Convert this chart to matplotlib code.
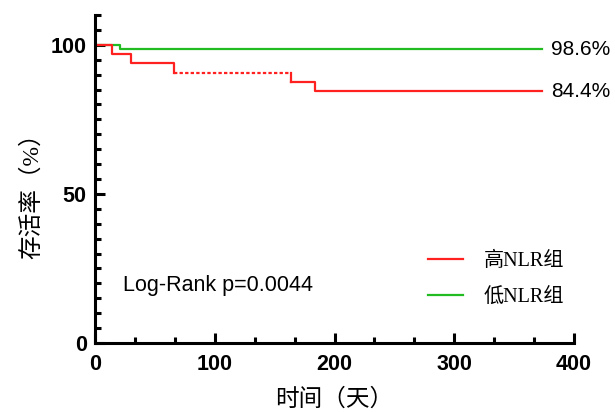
import matplotlib
matplotlib.use("Agg")
import matplotlib.pyplot as plt
from matplotlib.ticker import MultipleLocator

# === data ===
high_t = [0, 14, 30, 66, 164, 184, 373]
high_s = [100, 96.9, 93.75, 90.6, 87.5, 84.4, 84.4]
low_t = [0, 21, 373]
low_s = [100, 98.6, 98.6]
censor_span = [66, 164]  # dotted stretch of the high group
end_labels = ["98.6%", "84.4%"]
group_names = ["高NLR组", "低NLR组"]
colors = ["#ff2020", "#22bb22"]

cjk = ["Liberation Serif", "Noto Sans CJK SC"]

fig = plt.figure(figsize=(6.15, 4.12), dpi=100)
ax = fig.add_axes([0.1545, 0.1675, 0.779, 0.796])

ax.step(low_t, low_s, where="post", color=colors[1], lw=1.6, label=group_names[1])
# high group, with the dotted middle segment drawn separately
ax.step(high_t[:4], high_s[:4], where="post", color=colors[0], lw=1.6)
ax.plot(censor_span, [high_s[3], high_s[3]], color=colors[0], lw=1.6,
        ls=(0, (1.5, 1)))
ax.step(high_t[4:], high_s[4:], where="post", color=colors[0], lw=1.6)
ax.plot([high_t[4], high_t[4]], [high_s[3], high_s[4]], color=colors[0], lw=1.6)
ax.plot([], [], color=colors[0], lw=1.6, label=group_names[0])

ax.set_xlim(0, 400)
ax.set_ylim(0, 110)
ax.set_xticks([0, 100, 200, 300, 400])
ax.set_yticks([0, 50, 100])
ax.xaxis.set_minor_locator(MultipleLocator(100 / 3))
ax.yaxis.set_minor_locator(MultipleLocator(5))

for side in ["top", "right"]:
    ax.spines[side].set_visible(False)
for side in ["left", "bottom"]:
    ax.spines[side].set_linewidth(2.2)
ax.tick_params(which="major", direction="in", length=7, width=2.2,
               labelsize=15.5)
ax.tick_params(which="minor", direction="in", length=4, width=2.2)
ax.tick_params(axis="x", which="major", pad=8)
ax.tick_params(axis="y", which="major", pad=6)
for lab in ax.get_xticklabels() + ax.get_yticklabels():
    lab.set_fontfamily("Liberation Sans")
    lab.set_fontweight("bold")

ax.set_xlabel("时间（天）", family=cjk, fontsize=17)
ax.set_ylabel("存活率（%）", family=cjk, fontsize=17)
ax.xaxis.set_label_coords(0.499, -0.171)
ax.yaxis.set_label_coords(-0.1315, 0.466)
ax.xaxis.label.set_va("center")
ax.yaxis.label.set_va("center")

ax.text(381, low_s[-1], end_labels[0], family="Liberation Sans", fontsize=15,
        va="center", ha="left")
ax.text(381, high_s[-1], end_labels[1], family="Liberation Sans", fontsize=15,
        va="center", ha="left")
ax.text(23.5, 19.4, "Log-Rank p=0.0044", family="Liberation Sans", fontsize=15.5,
        va="center", ha="left")

handles, labels = ax.get_legend_handles_labels()
leg = ax.legend(handles[::-1], labels[::-1], loc="center left",
                bbox_to_anchor=(0.695, 0.194), frameon=False, borderpad=0,
                borderaxespad=0, prop={"family": cjk, "size": 14.5},
                handlelength=1.75, handletextpad=1.0, labelspacing=0.85)

fig.savefig("out.png", dpi=100)
